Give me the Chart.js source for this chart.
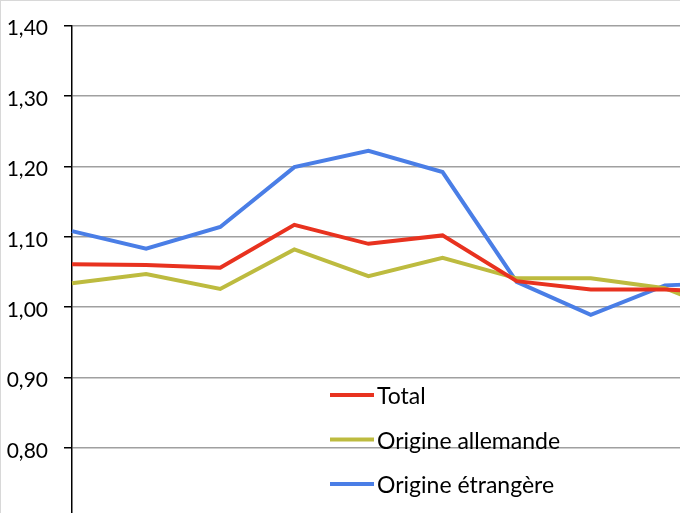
<!DOCTYPE html>
<html>
<head>
<meta charset="utf-8">
<script src="https://cdn.jsdelivr.net/npm/chart.js@4"></script>
<style>
  html, body { margin: 0; padding: 0; background: #fff; overflow: hidden; width: 680px; height: 513px; }
  #wrap { position: absolute; left: 0; top: -3px; width: 745px; height: 550px; }
  #frame { position: absolute; left: 0; top: 0; width: 680px; height: 513px; border-top: 1px solid #d8d8d8; border-left: 1px solid #d8d8d8; box-sizing: border-box; pointer-events: none; }
</style>
</head>
<body>
<div id="wrap"><canvas id="chart" width="745" height="550"></canvas></div>
<div id="frame"></div>
<script>
const categories = ['1', '2', '3', '4', '5', '6', '7', '8', '9', '10'];
const totalValues = [1.061, 1.060, 1.056, 1.117, 1.090, 1.102, 1.037, 1.025, 1.025, 1.020];
const allemandeValues = [1.034, 1.047, 1.026, 1.082, 1.044, 1.070, 1.041, 1.041, 1.027, 0.985];
const etrangereValues = [1.108, 1.083, 1.114, 1.199, 1.222, 1.192, 1.036, 0.989, 1.031, 1.035];
const seriesNames = ['Total', 'Origine allemande', 'Origine étrangère'];
const seriesColors = ['#e8321f', '#bdbb3f', '#4a7ee6'];

const FONT = 'Lato, "Liberation Sans", sans-serif';

// legend drawn inside the plot, like the original
const insideLegend = {
    id: 'insideLegend',
    afterDraw(chart) {
        const ctx = chart.ctx;
        ctx.save();
        ctx.font = '23px ' + FONT;
        ctx.textBaseline = 'middle';
        chart.data.datasets.forEach(function(ds, i) {
            const y = 398 + i * 44.5;
            ctx.strokeStyle = ds.borderColor;
            ctx.lineWidth = 4;
            ctx.beginPath();
            ctx.moveTo(330, y);
            ctx.lineTo(374, y);
            ctx.stroke();
            ctx.fillStyle = '#000';
            ctx.fillText(ds.label, 377, y + 2);
        });
        ctx.restore();
    }
};

const ctx = document.getElementById('chart').getContext('2d');
new Chart(ctx, {
    type: 'line',
    data: {
        labels: categories,
        datasets: [totalValues, allemandeValues, etrangereValues].map(function(vals, i) {
            return {
                label: seriesNames[i],
                data: vals,
                borderColor: seriesColors[i],
                backgroundColor: seriesColors[i],
                borderWidth: 4,
                pointRadius: 0,
                tension: 0,
                fill: false
            };
        })
    },
    options: {
        responsive: false,
        animation: false,
        devicePixelRatio: 1,
        layout: { padding: { top: 24, right: 6, bottom: 3, left: 0 } },
        plugins: {
            legend: { display: false },
            tooltip: { enabled: false }
        },
        scales: {
            x: {
                offset: false,
                ticks: { display: false },
                grid: { display: false },
                border: { display: false }
            },
            y: {
                min: 0.70,
                max: 1.40,
                ticks: {
                    stepSize: 0.1,
                    color: '#000',
                    padding: 16,
                    labelOffset: 3,
                    font: { family: FONT, size: 21 },
                    callback: function(v) { return v.toFixed(2).replace('.', ','); }
                },
                grid: {
                    color: '#a0a0a0',
                    lineWidth: 1.5,
                    tickLength: 8,
                    tickColor: '#000'
                },
                border: { color: '#000', width: 1.5 },
                afterFit: function(scale) { scale.width = 72; }
            }
        }
    },
    plugins: [insideLegend]
});
</script>
</body>
</html>
